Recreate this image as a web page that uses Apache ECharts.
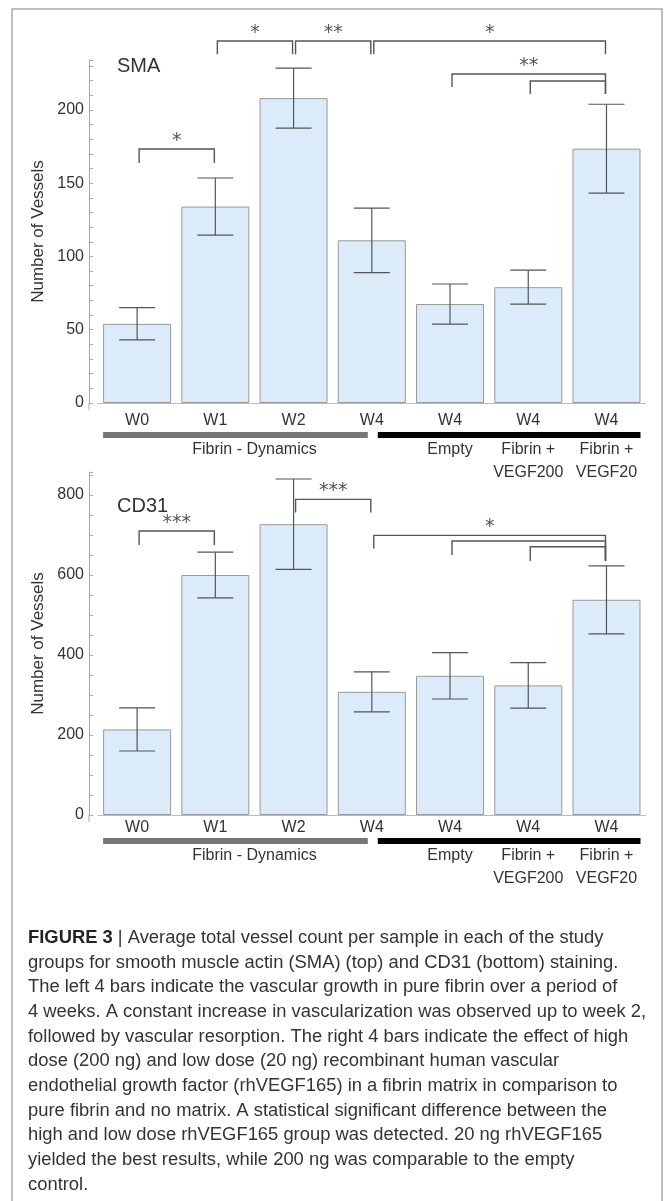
<!DOCTYPE html>
<html><head><meta charset="utf-8">
<script src="https://cdn.jsdelivr.net/npm/echarts@6/dist/echarts.min.js"></script>
<style>html,body{margin:0;padding:0;background:#fff}#c{width:665px;height:1201px}</style>
</head><body><div id="c"></div>
<script>
// ---------- data ----------
const categories = ['W0','W1','W2','W4','W4 Empty','W4 Fibrin + VEGF200','W4 Fibrin + VEGF20'];
const tickLabels = ['W0','W1','W2','W4','W4','W4','W4'];
const smaMean = [54, 134, 208, 111, 67.5, 79, 173.5];
const smaErr  = [11, 19.5, 20.5, 22, 13.7, 11.6, 30.3];
const cd31Mean = [214, 600, 727, 308, 348, 324, 538];
const cd31Err  = [54, 57, 113, 50, 58, 57, 85];
const smaTicks = [0, 50, 100, 150, 200];
const cd31Ticks = [0, 200, 400, 600, 800];
// brackets: [fromIdx, toIdx, level, leftLegEnd, rightLegEnd, label]
const smaBrackets = [
  [0, 1, 173.3, 163.7, 163.7, '*'],
  [1, 2, 247, 238, 238, '*'],
  [2, 3, 247, 238, 238, '**'],
  [3, 6, 247, 238, 238, '*'],
  [4, 6, 224.5, 215.6, 210.8, '**'],
  [5, 6, 219.7, 210.8, 210.8, '']
];
const cd31Brackets = [
  [0, 1, 710, 675, 675, '***'],
  [2, 3, 789, 756, 756, '***'],
  [3, 6, 699, 666, 635, '*'],
  [4, 6, 685, 650, 635, ''],
  [5, 6, 670.75, 635, 635, '']
];
const panelTitles = ['SMA', 'CD31'];
const yName = 'Number of Vessels';
const groupLeft = 'Fibrin - Dynamics';
const groupRightLine1 = ['Empty', 'Fibrin +', 'Fibrin +'];
const groupRightLine2 = ['', 'VEGF200', 'VEGF20'];
const captionLines = [
  'FIGURE 3 | Average total vessel count per sample in each of the study',
  'groups for smooth muscle actin (SMA) (top) and CD31 (bottom) staining.',
  'The left 4 bars indicate the vascular growth in pure fibrin over a period of',
  '4 weeks. A constant increase in vascularization was observed up to week 2,',
  'followed by vascular resorption. The right 4 bars indicate the effect of high',
  'dose (200 ng) and low dose (20 ng) recombinant human vascular',
  'endothelial growth factor (rhVEGF165) in a fibrin matrix in comparison to',
  'pure fibrin and no matrix. A statistical significant difference between the',
  'high and low dose rhVEGF165 group was detected. 20 ng rhVEGF165',
  'yielded the best results, while 200 ng was comparable to the empty',
  'control.'
];

// ---------- style / layout ----------
const FONT = '"Liberation Sans", Arial, sans-serif';
const TXT = '#333';
const AX = '#aaa';
const panels = [
  {top: 60, height: 343, max: 234, interval: 10, ticks: smaTicks, mean: smaMean, err: smaErr, br: smaBrackets, labelMargin: 10, bar: 432, g1: 450, g2: 473, titleY: 66},
  {top: 472, height: 343, max: 857.5, interval: 50, ticks: cd31Ticks, mean: cd31Mean, err: cd31Err, br: cd31Brackets, labelMargin: 5, bar: 838, g1: 856, g2: 879, titleY: 506}
];

const chart = echarts.init(document.getElementById('c'), null, {renderer: 'canvas'});

function errRender(params, api) {
  const x = api.value(0);
  const pHi = api.coord([x, api.value(2)]);
  const pLo = api.coord([x, api.value(1)]);
  const hw = 18;
  const st = {stroke: '#555', lineWidth: 1.2};
  return {type: 'group', children: [
    {type: 'line', shape: {x1: pHi[0], y1: pHi[1], x2: pLo[0], y2: pLo[1]}, style: st},
    {type: 'line', shape: {x1: pHi[0] - hw, y1: pHi[1], x2: pHi[0] + hw, y2: pHi[1]}, style: st},
    {type: 'line', shape: {x1: pLo[0] - hw, y1: pLo[1], x2: pLo[0] + hw, y2: pLo[1]}, style: st}
  ]};
}
function makeBracketRender(list) {
  return function (params, api) {
    const b = list[params.dataIndex];
    const a = api.coord([b[0], b[2]]);
    const c = api.coord([b[1], b[2]]);
    const yl = api.coord([b[0], b[3]])[1];
    const yr = api.coord([b[1], b[4]])[1];
    const xl = a[0] + 2, xr = c[0] - 1;
    const children = [
      {type: 'polyline', shape: {points: [[xl, yl], [xl, a[1]], [xr, a[1]], [xr, yr]]},
       style: {stroke: '#555', lineWidth: 1.4, fill: null}}
    ];
    if (b[5]) {
      children.push({type: 'text', style: {text: b[5], x: (xl + xr) / 2, y: a[1] - 8,
        align: 'center', verticalAlign: 'middle', font: '19px "DejaVu Sans"', fill: '#555'}});
    }
    return {type: 'group', children};
  };
}

const grid = [], xAxis = [], yAxis = [], series = [];
panels.forEach((p, gi) => {
  grid.push({left: 98, top: p.top, width: 547.6, height: p.height});
  xAxis.push({
    type: 'category', gridIndex: gi, data: categories,
    axisLine: {onZero: false, lineStyle: {color: '#bbb', width: 1}},
    axisTick: {length: 7, lineStyle: {color: AX}},
    axisLabel: {formatter: (v, i) => tickLabels[i], fontSize: 16, color: TXT, fontFamily: FONT, margin: p.labelMargin},
    splitLine: {show: false}
  });
  yAxis.push({
    type: 'value', gridIndex: gi, min: 0, max: p.max, interval: p.interval, offset: 9,
    name: yName, nameLocation: 'middle', nameGap: 42,
    nameTextStyle: {fontSize: 17, color: TXT, fontFamily: FONT},
    axisLine: {show: true, lineStyle: {color: AX, width: 1}},
    axisTick: {show: true, inside: true, length: 4, lineStyle: {color: AX}},
    axisLabel: {formatter: v => p.ticks.indexOf(v) >= 0 ? String(v) : '', fontSize: 16, color: TXT, fontFamily: FONT, margin: 5},
    splitLine: {show: false}
  });
  series.push({
    type: 'bar', xAxisIndex: gi, yAxisIndex: gi, data: p.mean, barWidth: 68,
    itemStyle: {color: '#dcebf9', borderColor: '#999', borderWidth: 1}
  });
  series.push({
    type: 'custom', xAxisIndex: gi, yAxisIndex: gi, clip: false, z: 3,
    renderItem: errRender,
    data: p.mean.map((m, i) => [i, m - p.err[i], m + p.err[i]])
  });
  series.push({
    type: 'custom', xAxisIndex: gi, yAxisIndex: gi, clip: false, z: 4,
    renderItem: makeBracketRender(p.br),
    data: p.br.map(b => [b[0], b[2], b[1], b[3], b[4]])
  });
});

chart.setOption({animation: false, backgroundColor: '#fff', grid, xAxis, yAxis, series});

// ---------- graphics ----------
const g = [];
g.push({type: 'rect', shape: {x: 12, y: 9, width: 650, height: 1230}, style: {fill: null, stroke: AX, lineWidth: 1.5}, silent: true});
panels.forEach((p, gi) => {
  const c = categories.map((_, i) => chart.convertToPixel({xAxisIndex: gi}, i));
  const bottom = p.top + p.height;
  const axX = 89;
  g.push({type: 'line', shape: {x1: axX, y1: bottom, x2: axX, y2: bottom + 7}, style: {stroke: AX, lineWidth: 1}});
  g.push({type: 'rect', shape: {x: c[0] - 34, y: p.bar, width: (c[3] - 4) - (c[0] - 34), height: 6}, style: {fill: '#777'}});
  g.push({type: 'rect', shape: {x: c[3] + 6, y: p.bar, width: (c[6] + 34) - (c[3] + 6), height: 6}, style: {fill: '#000'}});
  const ts = {fontSize: 16, fontFamily: FONT, fill: TXT, align: 'center', verticalAlign: 'middle'};
  g.push({type: 'text', style: Object.assign({text: groupLeft, x: (c[1] + c[2]) / 2, y: p.g1}, ts)});
  [4, 5, 6].forEach((ci, k) => {
    g.push({type: 'text', style: Object.assign({text: groupRightLine1[k], x: c[ci], y: p.g1}, ts)});
    if (groupRightLine2[k]) g.push({type: 'text', style: Object.assign({text: groupRightLine2[k], x: c[ci], y: p.g2}, ts)});
  });
  g.push({type: 'text', style: {text: panelTitles[gi], x: 117, y: p.titleY, fontSize: 20, fontFamily: FONT, fill: TXT, align: 'left', verticalAlign: 'middle'}});
});

// caption: semi-condensed look by horizontal scaling to the measured line width
const capSize = 17.5;
const ctx = document.createElement('canvas').getContext('2d');
ctx.font = capSize + 'px "Liberation Sans"';
const sx = 618 / ctx.measureText(captionLines[3]).width;
captionLines.forEach((line, i) => {
  const y = 938 + i * 24.7;
  let style;
  if (i === 0) {
    style = {text: '{b|FIGURE 3}' + line.replace('FIGURE 3', ''), x: 0, y: 0, fontSize: capSize, fontFamily: FONT, fill: TXT,
      align: 'left', verticalAlign: 'middle', rich: {b: {fontWeight: 'bold', fontSize: capSize, fontFamily: FONT, fill: '#222'}}};
  } else {
    style = {text: line, x: 0, y: 0, fontSize: capSize, fontFamily: FONT, fill: TXT, align: 'left', verticalAlign: 'middle'};
  }
  g.push({type: 'text', x: 28, y: y, scaleX: sx, scaleY: 1, style});
});
chart.setOption({graphic: g});
</script>
</body></html>
